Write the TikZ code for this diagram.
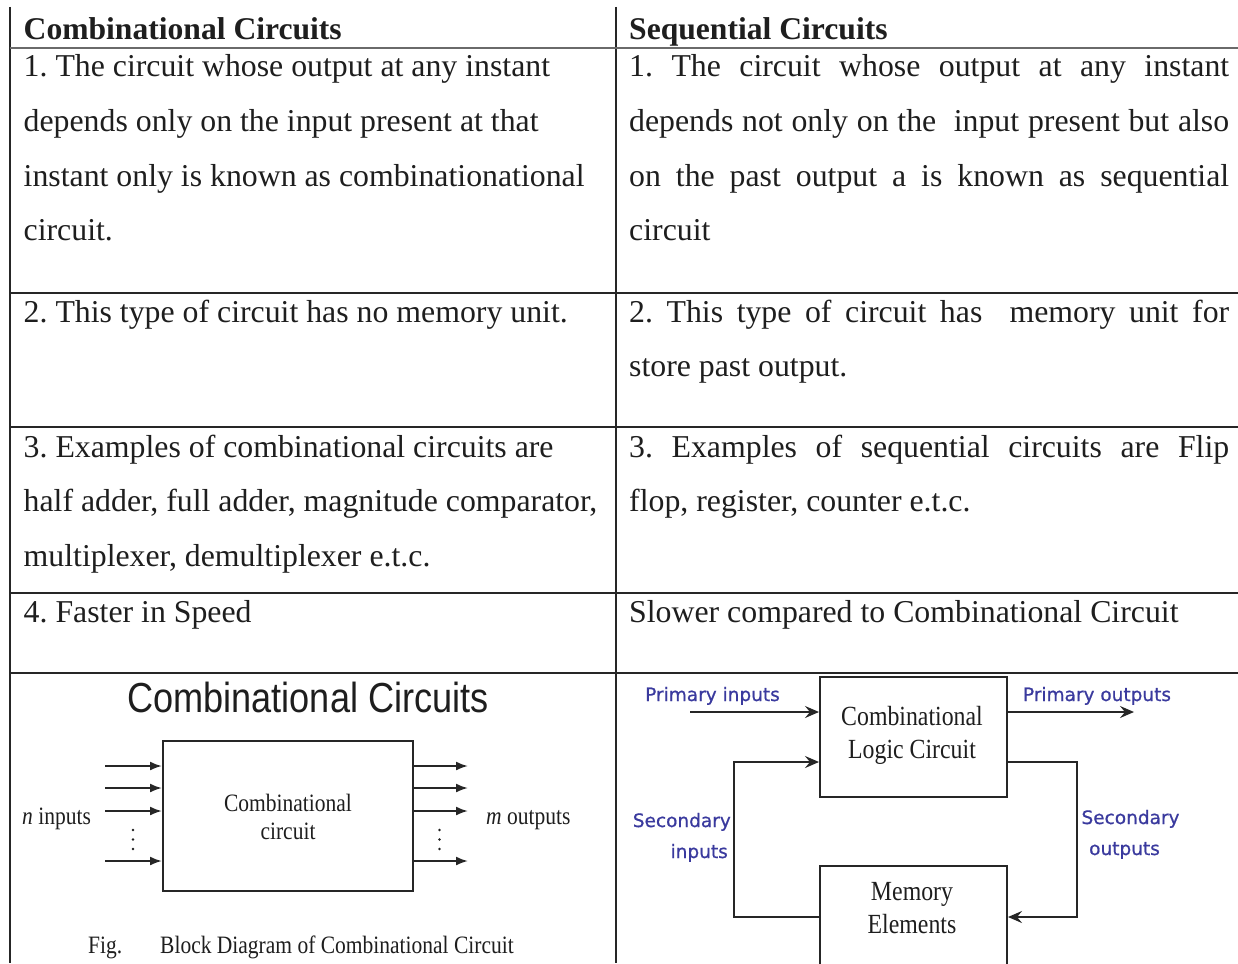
\documentclass[tikz,border=0pt]{standalone}
\usepackage{fontspec}
\usepackage{graphicx}
\setmainfont{Liberation Serif}
\newfontfamily\sansA{Liberation Sans}
\newfontfamily\sansB[FakeBold=0.7]{DejaVu Sans}
\usetikzlibrary{arrows.meta}
\definecolor{ink}{HTML}{1E1E1E}
\definecolor{rulecol}{HTML}{262626}
\definecolor{hdrrule}{HTML}{6A6A6A}
\definecolor{labelblue}{HTML}{3A3A9E}
\newcommand{\narrow}[1]{\scalebox{0.86}[1]{#1}}
\frenchspacing

\tikzset{
  body/.style={font=\fontsize{31.8}{31.8}\selectfont, text=ink, inner sep=0pt, anchor=base west},
  head/.style={body, font=\fontsize{31.6}{31.6}\selectfont\bfseries},
  gridline/.style={draw=rulecol, line width=2pt},
  hdrline/.style={draw=hdrrule, line width=2pt},
  blk/.style={draw=rulecol, line width=2pt, fill=none, inner sep=0pt},
  small/.style={font=\fontsize{25}{25}\selectfont, text=ink, inner sep=0pt},
  boxtext/.style={font=\fontsize{27.7}{27.7}\selectfont, text=ink, inner sep=0pt, anchor=base},
  bluelabel/.style={font=\sansB\fontsize{18.5}{18.5}\selectfont, text=labelblue, inner sep=0pt},
  sarr/.style={draw=rulecol, line width=2pt, -{Latex[length=12pt,width=9pt]}},
  barr/.style={draw=rulecol, line width=2pt, -{Stealth[length=14pt,width=12pt,inset=5pt]}},
}

\begin{document}
\begin{tikzpicture}[x=1pt,y=-1pt]
\useasboundingbox (0,0) rectangle (1238,963);
\clip (0,0) rectangle (1238,963);
\fill[white] (0,0) rectangle (1238,963);

% table rules
\draw[gridline] (9.5,7) -- (9.5,963);
\draw[gridline] (616,7) -- (616,963);
\draw[hdrline] (9.5,48) -- (1238,48);
\foreach \y in {292.5,427,592.5,673}
  \draw[gridline] (9.5,\y) -- (1238,\y);

% left column
\node[head] (hdL) at (23.5,40) {Combinational Circuits};
\node[body] (l11) at (23.5,77)    {1. The circuit whose output at any instant};
\node[body] (l12) at (23.5,131.5) {depends only on the input present at that};
\node[body] (l13) at (23.5,186)   {instant only is known as combinationational};
\node[body] (l14) at (23.5,240.5) {circuit.};
\node[body] (l21) at (23.5,322)   {2. This type of circuit has no memory unit.};
\node[body] (l31) at (23.5,457)   {3. Examples of combinational circuits are};
\node[body] (l32) at (23.5,511.5) {half adder, full adder, magnitude comparator,};
\node[body] (l33) at (23.5,566)   {multiplexer, demultiplexer e.t.c.};
\node[body] (l41) at (23.5,622)   {4. Faster in Speed};

% right column (justified lines)
\node[head] (hdR) at (629,40) {Sequential Circuits};
\node[body] (r11) at (629,77)    {\makebox[600pt][s]{1. The circuit whose output at any instant}};
\node[body] (r12) at (629,131.5) {\makebox[600pt][s]{depends not only on the\ \ input present but also}};
\node[body] (r13) at (629,186)   {\makebox[600pt][s]{on the past output a is known as sequential}};
\node[body] (r14) at (629,240.5) {circuit};
\node[body] (r21) at (629,322)   {\makebox[600pt][s]{2. This type of circuit has\ \ memory unit for}};
\node[body] (r22) at (629,376.5) {store past output.};
\node[body] (r31) at (629,457)   {\makebox[600pt][s]{3. Examples of sequential circuits are Flip}};
\node[body] (r32) at (629,511.5) {flop, register, counter e.t.c.};
\node[body] (r41) at (629,622)   {Slower compared to Combinational Circuit};

% block diagram of a combinational circuit
\node[inner sep=0pt, text=ink, anchor=base, font=\sansA\fontsize{42}{42}\selectfont]
  (ttl) at (308,712) {\narrow{Combinational Circuits}};
\node[blk, minimum width=250pt, minimum height=150pt] (cc) at (288,816) {};
\node[small, anchor=base] (cct1) at (288,811.5) {\narrow{Combinational}};
\node[small, anchor=base] (cct2) at (288,839) {\narrow{circuit}};
\foreach \y [count=\i] in {766,788,811,861} {
  \coordinate (ni\i) at (105,\y);
  \coordinate (mo\i) at (468,\y);
  \draw[sarr] (ni\i) -- (ni\i -| cc.west);
  \draw[sarr] (mo\i -| cc.east) -- (mo\i);
}
\foreach \y in {830,839.5,849} {
  \fill[ink] (133,\y) circle (1.3);
  \fill[ink] (439.5,\y) circle (1.3);
}
\node[small, anchor=base west] (nin) at (22,824) {\narrow{\textit{n} inputs}};
\node[small, anchor=base west] (mout) at (486,824) {\narrow{\textit{m} outputs}};
\node[small, anchor=base west] (figl) at (88,953) {\narrow{Fig.}};
\node[small, anchor=base west] (figc) at (160,953) {\narrow{Block Diagram of Combinational Circuit}};

% sequential circuit: logic block with memory feedback
\node[blk, minimum width=187pt, minimum height=120pt] (clc) at (913.5,737) {};
\node[blk, minimum width=187pt, minimum height=120pt] (mem) at (913.5,926) {};
\node[boxtext] (clc1) at (912,725) {\narrow{Combinational}};
\node[boxtext] (clc2) at (912,758) {\narrow{Logic Circuit}};
\node[boxtext] (mem1) at (912,900) {\narrow{Memory}};
\node[boxtext] (mem2) at (912,933) {\narrow{Elements}};

\coordinate (pin) at (690,712);
\coordinate (pout) at (1134,712);
\draw[barr, line width=1.6pt] (pin) -- (pin -| clc.west);
\draw[barr, line width=1.6pt] (pout -| clc.east) -- (pout);

\coordinate (sitop) at (733.5,762);
\coordinate (sibot) at (733.5,917);
\coordinate (sotop) at (1077,762);
\coordinate (sobot) at (1077,917);
\draw[barr] (sibot -| mem.west) -- (sibot) -- (sitop) -- (sitop -| clc.west);
\draw[barr] (sotop -| clc.east) -- (sotop) -- (sobot) -- (sobot -| mem.east);

\node[bluelabel, anchor=base] (lpi) at (712.5,701) {Primary inputs};
\node[bluelabel, anchor=base] (lpo) at (1097,701) {Primary outputs};
\node[bluelabel, anchor=base east] (lsi1) at (731,827) {Secondary};
\node[bluelabel, anchor=base east] (lsi2) at (728,858) {inputs};
\node[bluelabel, anchor=base] (lso1) at (1130.5,824) {Secondary};
\node[bluelabel, anchor=base] (lso2) at (1124.5,855) {outputs};
\end{tikzpicture}
\end{document}
